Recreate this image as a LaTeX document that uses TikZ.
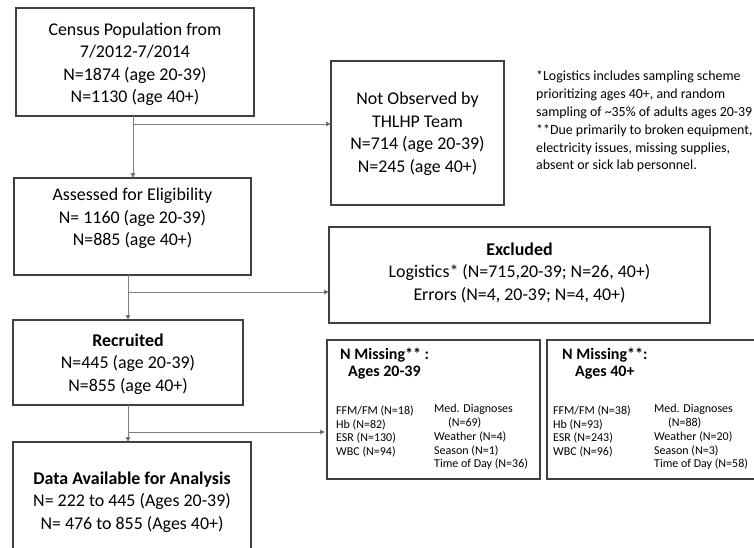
\documentclass[tikz,border=0pt]{standalone}
\usepackage{fontspec}
\setmainfont{Carlito}
\usetikzlibrary{arrows.meta,calc}
\definecolor{boxc}{HTML}{404040}
\definecolor{linec}{HTML}{7F7F7F}
\begin{document}
\begin{tikzpicture}[x=1pt,y=-1pt,
  box/.style={draw=boxc,line width=1.1pt,inner sep=0pt,outer sep=0pt},
  big/.style={align=center,inner sep=0pt,font=\fontsize{17.9}{22.5}\selectfont},
  smalltxt/.style={align=left,inner sep=0pt,anchor=west,font=\fontsize{12}{13.8}\selectfont},
  head/.style={inner sep=0pt,anchor=west,font=\fontsize{16}{18}\selectfont\bfseries},
  note/.style={align=left,inner sep=0pt,anchor=west,font=\fontsize{13.9}{17.8}\selectfont},
  arr/.style={draw=linec,line width=0.9pt,-{Triangle[length=5pt,width=4.5pt,fill=boxc]}}]
\useasboundingbox (0,0) rectangle (754,547);
% boxes
\node[box,minimum width=238pt,minimum height=108pt] (census) at (135,62) {};
\node[box,minimum width=173pt,minimum height=144pt] (notobs) at (417.5,133) {};
\node[box,minimum width=237pt,minimum height=97pt] (assessed) at (132.5,226.5) {};
\node[box,minimum width=381pt,minimum height=96pt] (excluded) at (519.5,275) {};
\node[box,minimum width=230pt,minimum height=85pt] (recruited) at (128,362.5) {};
\node[box,minimum width=238pt,minimum height=130pt] (data) at (132,507) {};
\node[box,minimum width=213pt,minimum height=139pt] (miss1) at (433.5,409.5) {};
\node[box,minimum width=223pt,minimum height=139pt] (miss2) at (658.5,409.5) {};
% texts
\node[big] (censust) at (135,64.5) {Census Population from\\7/2012-7/2014\\N=1874 (age 20-39)\\N=1130 (age 40+)};
\node[big] (notobst) at (417.5,134) {Not Observed by\\THLHP Team\\N=714 (age 20-39)\\N=245 (age 40+)};
\node[big] (assessedt) at (132.5,218.5) {Assessed for Eligibility\\N= 1160 (age 20-39)\\N=885 (age 40+)};
\node[big] (excludedt) at (519.5,272.5) {\textbf{Excluded}\\Logistics* (N=715,20-39; N=26, 40+)\\Errors (N=4, 20-39; N=4, 40+)};
\node[big] (recruitedt) at (128,364) {\textbf{Recruited}\\N=445 (age 20-39)\\N=855 (age 40+)};
\node[big] (datat) at (132,502) {\textbf{Data Available for Analysis}\\N= 222 to 445 (Ages 20-39)\\N= 476 to 855 (Ages 40+)};
\node[note] (notet) at (536,121.5) {*Logistics includes sampling scheme\\prioritizing ages 40+, and random\\sampling of \textasciitilde35\% of adults ages 20-39\\**Due primarily to broken equipment,\\electricity issues, missing supplies,\\absent or sick lab personnel.};
% missing 1
\node[head] (m1h1) at (340,355) {N Missing** :};
\node[head] (m1h2) at (348,373) {Ages 20-39};
\node[smalltxt] (m1l) at (336,431.5) {FFM/FM (N=18)\\Hb (N=82)\\ESR (N=130)\\WBC (N=94)};
\node[smalltxt] (m1r) at (434,437) {Med. Diagnoses\\\hspace{14pt}(N=69)\\Weather (N=4)\\Season (N=1)\\Time of Day (N=36)};
% missing 2
\node[head] (m2h1) at (562,355) {N Missing**:};
\node[head] (m2h2) at (575,373) {Ages 40+};
\node[smalltxt] (m2l) at (553,431.5) {FFM/FM (N=38)\\Hb (N=93)\\ESR (N=243)\\WBC (N=96)};
\node[smalltxt] (m2r) at (654,437) {Med. Diagnoses\\\hspace{14pt}(N=88)\\Weather (N=20)\\Season (N=3)\\Time of Day (N=58)};
% connectors
\coordinate (t1) at (133,116);
\coordinate (b1) at (133,124);
\draw[arr] (t1) -- (t1 |- assessed.north);
\draw[arr] (b1) -- (b1 -| notobs.west);
\coordinate (t2) at (128,275);
\coordinate (b2) at (128,292);
\draw[arr] (t2) -- (t2 |- recruited.north);
\draw[arr] (b2) -- (b2 -| excluded.west);
\coordinate (t3) at (128,405);
\coordinate (b3) at (128,432);
\draw[arr] (t3) -- (t3 |- data.north);
\draw[arr] (b3) -- ($(b3 -| miss1.west)+(-2,0)$);
\end{tikzpicture}
\end{document}
